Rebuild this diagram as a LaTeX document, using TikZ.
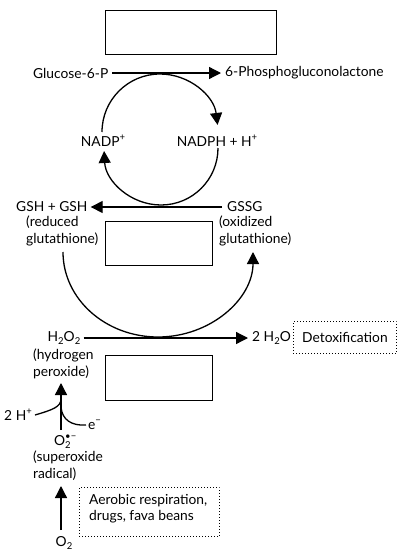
\documentclass[tikz,border=0pt]{standalone}
\usepackage{fontspec}
\setmainfont{Lato}
\usetikzlibrary{arrows.meta}
\newcommand\mysup[1]{\raisebox{0.42em}{\fontsize{9.5}{9.5}\selectfont #1}}
\newcommand\mysub[1]{\raisebox{-0.25em}{\fontsize{9.5}{9.5}\selectfont #1}}
\tikzset{
  lbl/.style={inner sep=0pt, font=\fontsize{13.8}{16.5}\selectfont},
  lblL/.style={lbl, align=left, anchor=north west},
  emptybox/.style={draw, line width=1.3pt},
  dotbox/.style={draw, line width=0.9pt, dash pattern=on 0.9pt off 2.1pt, inner sep=0pt},
  conn/.style={line width=1.3pt},
  arr/.style={conn, -{Triangle[length=12pt, width=12pt]}},
}
\begin{document}
\begin{tikzpicture}[x=1pt, y=-1pt]
\useasboundingbox (0,0) rectangle (403,555);
% empty boxes
\node[emptybox, minimum width=171pt, minimum height=44pt, anchor=north west] (box1) at (105,10) {};
\node[emptybox, minimum width=107pt, minimum height=44pt, anchor=north west] (box2) at (105,221) {};
\node[emptybox, minimum width=107pt, minimum height=45pt, anchor=north west] (box3) at (105,355) {};
% top reaction
\node[lbl, anchor=west] (glc) at (33,73) {Glucose-6-P};
\node[lbl, anchor=west] (pgl) at (225,73) {6-Phosphogluconolactone};
\draw[arr] ([xshift=4pt]glc.east) -- ([xshift=-4pt]pgl.west);
% NADP cycle
\node[lbl] (nadp) at (103,141) {NADP\mysup{+}};
\node[lbl] (nadph) at (217,141) {NADPH + H\mysup{+}};
\coordinate (c1s) at (102,132);
\draw[arr] (c1s) arc[start angle=180, end angle=353, radius=58];
\coordinate (c2s) at (218,148);
\draw[arr] (c2s) arc[start angle=0, end angle=177, radius=57];
% glutathione
\node[lbl, anchor=west] (gsh) at (16,207) {GSH + GSH};
\node[lbl, anchor=west] (gssg) at (227,207) {GSSG};
\draw[arr] ([xshift=-5pt]gssg.west) -- ([xshift=3pt]gsh.east);
\node[lblL] (red) at (26,216) {(reduced\\glutathione)};
\node[lblL] (oxi) at (219,216) {(oxidized\\glutathione)};
\coordinate (e1s) at (63,252);
\draw[arr] (e1s) arc[start angle=180, end angle=0, x radius=95, y radius=85];
% peroxide
\node[lbl] (h2o2) at (64,338) {H\mysub{2}O\mysub{2}};
\node[lbl, anchor=west] (h2o) at (252,338) {2 H\mysub{2}O};
\draw[arr] ([xshift=3pt]h2o2.east) -- ([xshift=-4pt]h2o.west);
\node[dotbox, minimum width=103pt, minimum height=32pt, anchor=north west] (detox) at (293,321) {};
\node[lbl] (detoxt) at (detox.center) {Detoxification};
\node[lblL] (hper) at (33,349) {(hydrogen\\peroxide)};
% superoxide
\node[lbl, anchor=west] (sup) at (54,442) {O\rlap{\mysub{2}}\mysup{•−}};
\coordinate (s1) at (61,430);
\coordinate (s2) at (61,383);
\draw[arr] (s1) -- (s2);
\node[lbl, anchor=east] (hplus) at (32,415) {2 H\mysup{+}};
\coordinate (hj) at (61,399);
\draw[conn] ([xshift=3pt]hplus.east) .. controls (52,410) and (61,407) .. (hj);
\node[lbl, anchor=west] (elec) at (88,425) {e\mysup{−}};
\coordinate (ej) at (61,407);
\draw[conn] (ej) .. controls (62,420) and (72,426) .. ([xshift=-2pt]elec.west);
\node[lblL] (supt) at (33,451) {(superoxide\\radical)};
% O2
\node[lbl] (o2) at (64,543) {O\mysub{2}};
\coordinate (o2t) at (61,486);
\draw[arr] (61,530) coordinate (o2s) -- (o2t);
\node[dotbox, minimum width=140pt, minimum height=49pt, anchor=north west] (aer) at (79,487) {};
\node[lblL] (aert) at (89,494) {Aerobic respiration,\\drugs, fava beans};
\end{tikzpicture}
\end{document}
